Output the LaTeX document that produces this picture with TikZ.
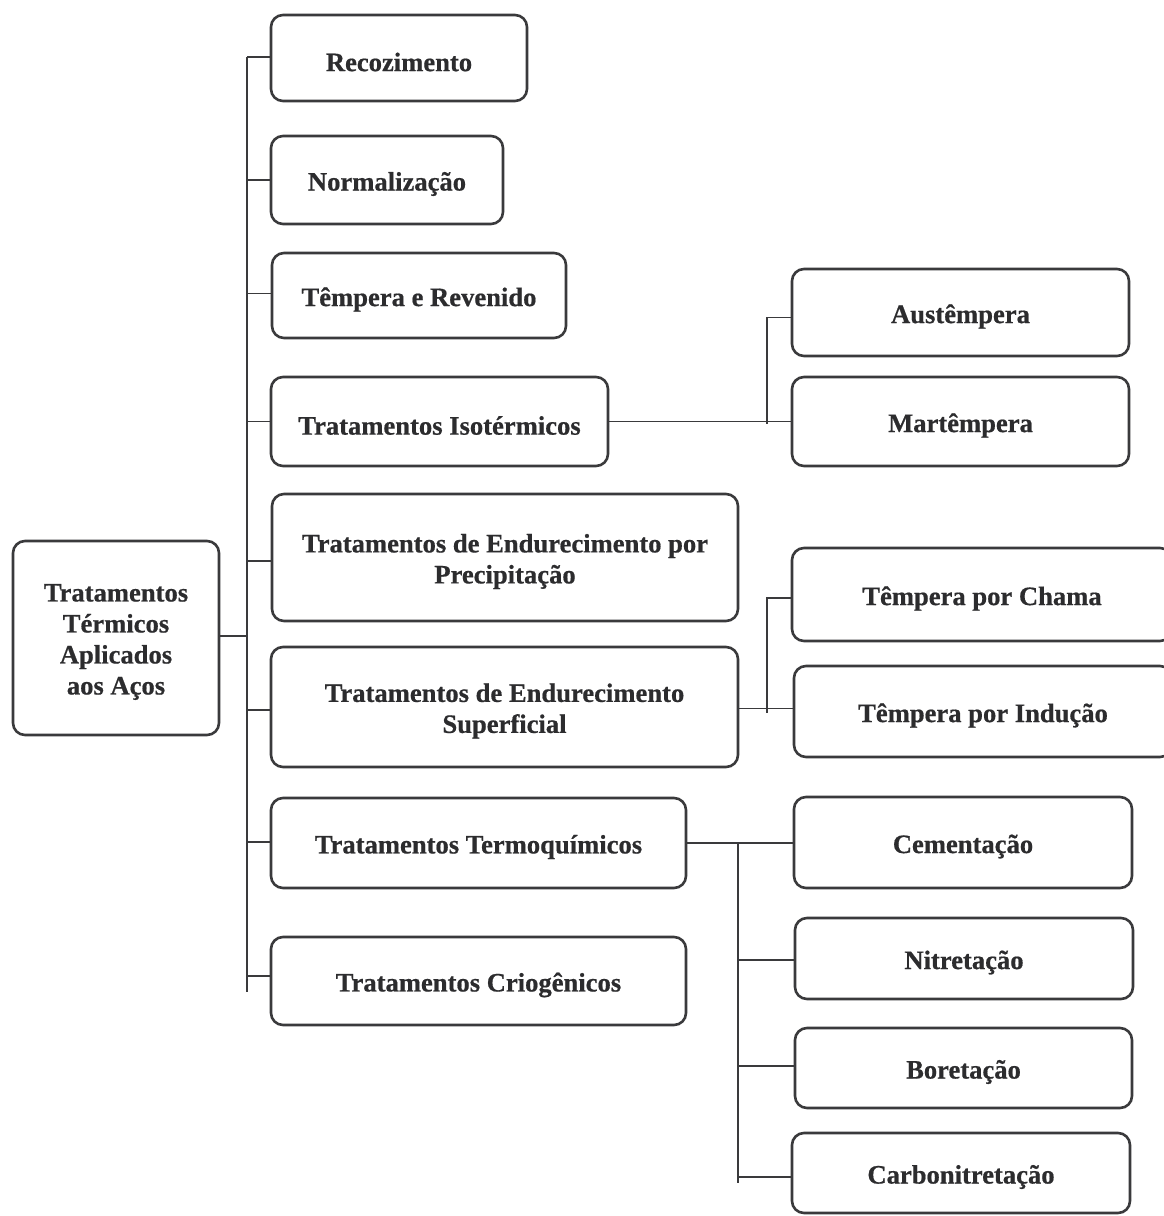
\documentclass[tikz,border=0pt]{standalone}
\usepackage{fontspec}
\setmainfont{Liberation Serif}[BoldFeatures={FakeBold=0.6}]
\definecolor{lc}{HTML}{3A3A3C}
\definecolor{tc}{HTML}{2C2C2E}
\begin{document}
\begin{tikzpicture}[x=1pt,y=-1pt,
  box/.style={draw=lc, line width=2.6pt, rounded corners=12pt, inner sep=0pt},
  lbl/.style={align=center, text=tc, inner sep=0pt, yshift=-4pt,
    font=\fontsize{26.6}{31}\selectfont\bfseries},
  conn/.style={draw=lc, line width=1.9pt}]
\useasboundingbox[fill=white] (0,0) rectangle (1163,1216);
% main column
\node[box, minimum width=206pt, minimum height=194pt, label={[lbl]center:{Tratamentos\\Térmicos\\Aplicados\\aos Aços}}] (root) at (116,638) {};
\node[box, minimum width=256pt, minimum height=86pt, label={[lbl]center:{Recozimento}}] (rec) at (399,58) {};
\node[box, minimum width=232pt, minimum height=88pt, label={[lbl]center:{Normalização}}] (nor) at (387,180) {};
\node[box, minimum width=294pt, minimum height=85pt, label={[lbl]center:{Têmpera e Revenido}}] (tem) at (419,295.5) {};
\node[box, minimum width=337pt, minimum height=89pt, label={[lbl]center:{Tratamentos Isotérmicos}}] (iso) at (439.5,421.5) {};
\node[box, minimum width=466pt, minimum height=127pt, label={[lbl]center:{Tratamentos de Endurecimento por\\Precipitação}}] (pre) at (505,557.5) {};
\node[box, minimum width=467pt, minimum height=120pt, label={[lbl]center:{Tratamentos de Endurecimento\\Superficial}}] (sup) at (504.5,707) {};
\node[box, minimum width=415pt, minimum height=90pt, label={[lbl]center:{Tratamentos Termoquímicos}}] (ter) at (478.5,843) {};
\node[box, minimum width=415pt, minimum height=88pt, label={[lbl]center:{Tratamentos Criogênicos}}] (cri) at (478.5,981) {};
% right column
\node[box, minimum width=337pt, minimum height=87pt, label={[lbl]center:{Austêmpera}}] (aus) at (960.5,312.5) {};
\node[box, minimum width=337pt, minimum height=89pt, label={[lbl]center:{Martêmpera}}] (mar) at (960.5,421.5) {};
\node[box, minimum width=380pt, minimum height=93pt, label={[lbl]center:{Têmpera por Chama}}] (cha) at (982,594.5) {};
\node[box, minimum width=378pt, minimum height=91pt, label={[lbl]center:{Têmpera por Indução}}] (ind) at (983,711.5) {};
\node[box, minimum width=338pt, minimum height=91pt, label={[lbl]center:{Cementação}}] (cem) at (963,842.5) {};
\node[box, minimum width=338pt, minimum height=81pt, label={[lbl]center:{Nitretação}}] (nit) at (964,958.5) {};
\node[box, minimum width=337pt, minimum height=80pt, label={[lbl]center:{Boretação}}] (bor) at (963.5,1068) {};
\node[box, minimum width=338pt, minimum height=80pt, label={[lbl]center:{Carbonitretação}}] (car) at (961,1173) {};
% trunk
\coordinate (ttop) at (247,57);
\coordinate (tbot) at (247,992);
\draw[conn] (ttop) -- (tbot);
\draw[conn] ([yshift=2pt]root.east) -- ([yshift=2pt]root.east -| ttop);
\foreach \n/\s in {rec/1,nor/0,tem/2,iso/0,pre/-3.5,sup/-3,ter/1,cri/5}
  \draw[conn] ([yshift=\s pt]\n.west) -- ([yshift=\s pt]\n.west -| ttop);
% isothermal group
\coordinate (ib) at (767,424);
\draw[conn] (iso.east) -- (mar.west);
\draw[conn] ([yshift=-5pt]aus.west) -| (ib);
% surface group
\coordinate (sb) at (767,713);
\draw[conn] ([yshift=-1.5pt]sup.east) -- ([yshift=-1.5pt]sup.east -| ind.west);
\draw[conn] ([yshift=-3.5pt]cha.west) -| (sb);
% thermochemical group
\coordinate (cb) at (738,1183);
\draw[conn] (ter.east) -- (ter.east -| cem.west);
\draw[conn] (ter.east -| cb) -- (cb);
\draw[conn] ([yshift=-1.5pt]nit.west -| cb) -- ([yshift=-1.5pt]nit.west);
\draw[conn] ([yshift=2pt]bor.west -| cb) -- ([yshift=2pt]bor.west);
\draw[conn] ([yshift=-4pt]car.west -| cb) -- ([yshift=-4pt]car.west);
\end{tikzpicture}
\end{document}
